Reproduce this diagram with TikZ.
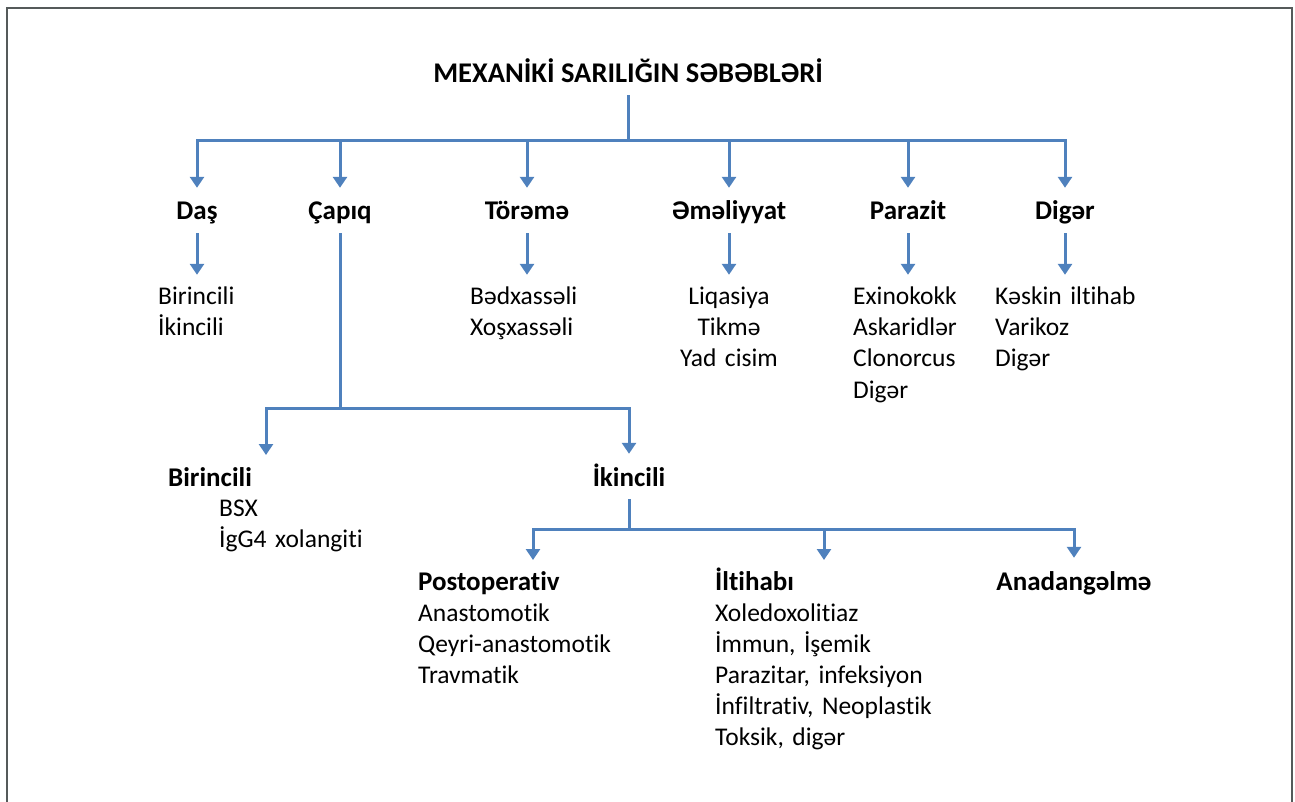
\documentclass[tikz,border=0pt]{standalone}
\usepackage{fontspec}
\setmainfont{Carlito}[Ligatures=NoCommon]
\usepackage{xcolor}
\usepackage{tikz}
\usetikzlibrary{arrows.meta}
\definecolor{linkblue}{RGB}{79,129,189}
\definecolor{framegray}{RGB}{85,90,90}

\begin{document}
\begin{tikzpicture}[
  x=1pt, y=-1pt,
  link/.style={line width=3pt, draw=linkblue},
  arrow/.style={link, -{Triangle[width=14pt,length=11pt]}},
  head/.style={font=\bfseries\fontsize{27}{31}\selectfont, inner sep=0pt,
               text height=32pt, text depth=13pt, anchor=base},
  items/.style={font=\fontsize{25.5}{31}\selectfont, inner sep=0pt,
                text width=300pt, align=left, anchor=base west, text height=30pt},
]
\useasboundingbox (0,0) rectangle (1295,802);
\draw[framegray, line width=1.8pt] (7,806) -- (7,8) -- (1292,8) -- (1292,806);

% title and first level
\node[head, font=\bfseries\fontsize{28.5}{34}\selectfont, text height=20pt, text depth=12pt]
  (title) at (628,83) {MEXANİKİ SARILIĞIN SƏBƏBLƏRİ};
\coordinate (jtop) at (628,141);
\node[head] (das) at (197,220) {Daş};
\node[head] (capiq) at (340,220) {Çapıq};
\node[head] (torema) at (527,220) {Törəmə};
\node[head] (emel) at (729,220) {Əməliyyat};
\node[head] (parazit) at (908,220) {Parazit};
\node[head] (diger) at (1065,220) {Digər};
\draw[link] (title) -- (jtop);
\foreach \n in {das,capiq,torema,emel,parazit,diger}
  \draw[arrow] (jtop) -| (\n);

% lists under the first level
\node[items] (dasList) at (158,305) {Birincili\\İkincili};
\node[items] (toremaList) at (470,305) {Bədxassəli\\Xoşxassəli};
\node[items, text width=150pt, align=center, anchor=base] (emelList) at (729,305)
  {Liqasiya\\Tikmə\\Yad cisim};
\node[items] (parazitList) at (853,305) {Exinokokk\\Askaridlər\\Clonorcus\\Digər};
\node[items, text width=260pt] (digerList) at (995,305) {Kəskin iltihab\\Varikoz\\Digər};
\draw[arrow] (das) -- (das |- dasList.north);
\draw[arrow] (torema) -- (torema |- toremaList.north);
\draw[arrow] (emel) -- (emelList.north);
\draw[arrow] (parazit) -- (parazit |- parazitList.north);
\draw[arrow] (diger) -- (diger |- digerList.north);

% Capiq split
\coordinate (jcap) at (340,408);
\coordinate (birTip) at (266,455);
\node[head, anchor=base west] (birincili) at (168,486) {Birincili};
\node[items] (birList) at (219,516) {BSX\\İgG4 xolangiti};
\node[head] (ikincili) at (629,486) {İkincili};
\draw[link] (capiq) -- (jcap);
\draw[arrow] (jcap) -| (birTip);
\draw[arrow] (jcap) -| (ikincili);

% secondary causes
\coordinate (jikin) at (629,529);
\coordinate (postTip) at (533,560);
\coordinate (iltTip) at (824,560);
\node[head, anchor=base west] (postop) at (418,590) {Postoperativ};
\node[items] (postList) at (418,621) {Anastomotik\\Qeyri-anastomotik\\Travmatik};
\node[head, anchor=base west] (iltihab) at (715,590) {İltihabı};
\node[items] (iltList) at (715,621)
  {Xoledoxolitiaz\\İmmun, İşemik\\Parazitar, infeksiyon\\İnfiltrativ, Neoplastik\\Toksik, digər};
\node[head] (anad) at (1074,590) {Anadangəlmə};
\draw[link] (ikincili) -- (jikin);
\draw[arrow] (jikin) -| (postTip);
\draw[arrow] (jikin) -| (iltTip);
\draw[arrow] (jikin) -| (anad);
\end{tikzpicture}
\end{document}
